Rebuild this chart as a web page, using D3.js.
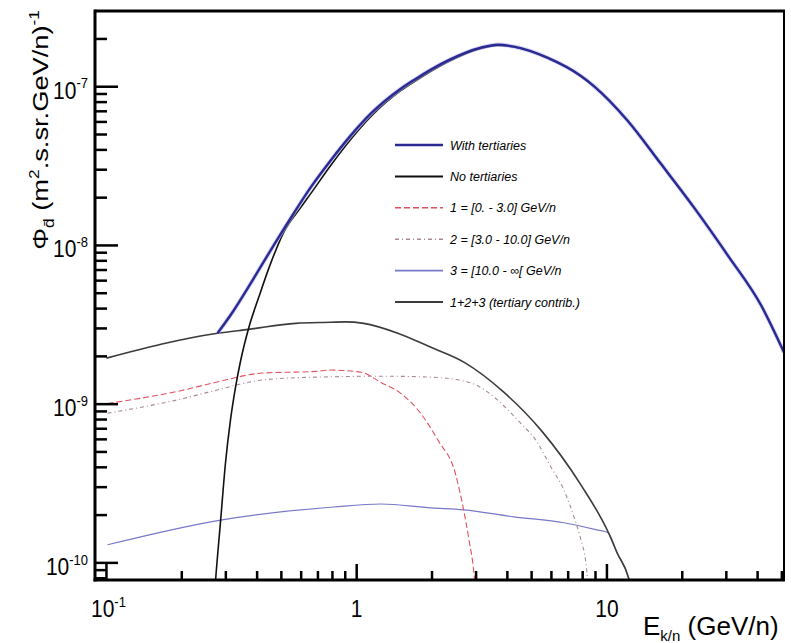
<!DOCTYPE html>
<html>
<head>
<meta charset="utf-8">
<script src="https://cdn.jsdelivr.net/npm/d3@7"></script>
<style>
  html, body { margin: 0; padding: 0; background: #fff; }
  svg { display: block; }
  text { font-family: "Liberation Sans", Arial, Helvetica, sans-serif; fill: #000; }
</style>
</head>
<body>
<svg id="chart" width="791" height="643"></svg>
<script>
// ---------------- data ----------------
const xTickValues = [0.1, 1, 10];
const xTickLabels = [["10", "-1"], ["1", null], ["10", null]];
const yTickValues = [1e-10, 1e-9, 1e-8, 1e-7];
const yTickLabels = [["10", "-10"], ["10", "-9"], ["10", "-8"], ["10", "-7"]];
const xMinorTicks = [0.2, 0.3, 0.4, 0.5, 0.6, 0.7, 0.8, 0.9, 2, 3, 4, 5, 6, 7, 8, 9, 20, 30, 40, 50];
const yMinorTicks = [8e-11, 9e-11,
  2e-10, 3e-10, 4e-10, 5e-10, 6e-10, 7e-10, 8e-10, 9e-10,
  2e-9, 3e-9, 4e-9, 5e-9, 6e-9, 7e-9, 8e-9, 9e-9,
  2e-8, 3e-8, 4e-8, 5e-8, 6e-8, 7e-8, 8e-8, 9e-8,
  2e-7];

const legendLabels = [
  "With tertiaries",
  "No tertiaries",
  "1 = [0. - 3.0] GeV/n",
  "2 = [3.0 - 10.0] GeV/n",
  "3 = [10.0 - \u221E[ GeV/n",
  "1+2+3 (tertiary contrib.)"
];

// With tertiaries
const withTertE = [0.278, 0.313, 0.377, 0.453, 0.544, 0.655, 0.787, 0.946, 1.138, 1.50, 1.69, 2.31, 3.13, 3.66, 4.25, 5.81, 7.87, 8.87, 12.1, 16.4, 22.3, 30.5, 41.3, 51];
const withTertF = [2.80e-9, 3.63e-9, 5.77e-9, 9.31e-9, 1.48e-8, 2.32e-8, 3.43e-8, 4.92e-8, 6.76e-8, 9.71e-8, 1.10e-7, 1.46e-7, 1.76e-7, 1.84e-7, 1.79e-7, 1.52e-7, 1.17e-7, 1.01e-7, 6.11e-8, 3.28e-8, 1.73e-8, 8.60e-9, 4.20e-9, 2.12e-9];

// No tertiaries
const noTertE = [0.262, 0.273, 0.286, 0.299, 0.313, 0.328, 0.344, 0.370, 0.406, 0.453, 0.511, 0.597, 0.655, 0.787, 0.946, 1.138, 1.50, 1.69, 2.31, 3.13, 3.66, 4.25, 5.81, 7.87, 8.87, 12.1, 16.4, 22.3, 30.5, 41.3, 51];
const noTertF = [3.0e-11, 7.8e-11, 1.86e-10, 4.26e-10, 7.93e-10, 1.28e-9, 1.89e-9, 3.01e-9, 4.71e-9, 7.71e-9, 1.21e-8, 1.73e-8, 2.12e-8, 3.19e-8, 4.65e-8, 6.47e-8, 9.44e-8, 1.07e-7, 1.43e-7, 1.74e-7, 1.82e-7, 1.78e-7, 1.51e-7, 1.165e-7, 1.005e-7, 6.10e-8, 3.28e-8, 1.73e-8, 8.60e-9, 4.20e-9, 2.12e-9];

// 1 = [0 - 3.0] GeV/n
const band1E = [0.101, 0.20, 0.272, 0.42, 0.686, 0.787, 1.04, 1.25, 1.50, 1.80, 2.11, 2.49, 2.65, 2.81, 2.94, 3.05];
const band1F = [1.01e-9, 1.22e-9, 1.37e-9, 1.57e-9, 1.61e-9, 1.64e-9, 1.59e-9, 1.37e-9, 1.17e-9, 8.77e-10, 5.94e-10, 3.57e-10, 2.32e-10, 1.40e-10, 8.65e-11, 4.0e-11];

// 2 = [3.0 - 10.0] GeV/n
const band2E = [0.101, 0.20, 0.272, 0.42, 0.686, 1.28, 1.98, 2.86, 3.66, 4.40, 5.29, 5.97, 6.73, 7.38, 7.87, 8.24, 8.37, 8.6];
const band2F = [8.77e-10, 1.08e-9, 1.22e-9, 1.42e-9, 1.48e-9, 1.50e-9, 1.48e-9, 1.36e-9, 1.06e-9, 7.93e-10, 5.69e-10, 4.02e-10, 2.88e-10, 1.95e-10, 1.40e-10, 1.00e-10, 7.8e-11, 4.0e-11];

// 3 = [10.0 - inf[ GeV/n
const band3E = [0.101, 0.286, 0.809, 1.25, 1.98, 2.68, 4.25, 6.73, 9.20, 10.1, 11.0, 12.2, 13.0];
const band3F = [1.30e-10, 1.86e-10, 2.25e-10, 2.35e-10, 2.22e-10, 2.16e-10, 1.95e-10, 1.79e-10, 1.61e-10, 1.55e-10, 1.15e-10, 8.05e-11, 5.0e-11];

// 1+2+3 (tertiary contribution)
const sumE = [0.10, 0.278, 0.37, 0.57, 0.787, 0.90, 1.066, 1.46, 1.98, 2.68, 3.87, 5.45, 7.87, 10.1, 11.0, 12.2, 13.0];
const sumF = [1.95e-9, 2.80e-9, 2.96e-9, 3.23e-9, 3.28e-9, 3.30e-9, 3.23e-9, 2.80e-9, 2.28e-9, 1.84e-9, 1.19e-9, 6.86e-10, 3.10e-10, 1.57e-10, 1.15e-10, 8.05e-11, 5.0e-11];

// ---------------- layout ----------------
const svg = d3.select("#chart");
const L = 95, R = 784, T = 11, B = 580;

const x = d3.scaleLog().domain([0.09, 51]).range([L, R]);
const y = d3.scaleLog().domain([7.8e-11, 3e-7]).range([B, T]);

svg.append("defs").append("clipPath").attr("id", "plotclip")
  .append("rect").attr("x", L).attr("y", T).attr("width", R - L).attr("height", B - T);

const styles = [
  { color: "#2a2a92", width: 2.4, dash: null },
  { color: "#111111", width: 1.6, dash: null },
  { color: "#e0505e", width: 1.1, dash: "6,3" },
  { color: "#a88896", width: 1.1, dash: "4,3,1,3" },
  { color: "#7878c8", width: 1.2, dash: null },
  { color: "#3c3c3c", width: 1.6, dash: null }
];

const series = [
  [withTertE, withTertF],
  [noTertE, noTertF],
  [band1E, band1F],
  [band2E, band2F],
  [band3E, band3F],
  [sumE, sumF]
];

const line = d3.line().x(d => x(d[0])).y(d => y(d[1])).curve(d3.curveMonotoneX);

const curves = svg.append("g").attr("clip-path", "url(#plotclip)");
const order = [4, 3, 2, 5, 1, 0];
order.forEach(i => {
  const pts = series[i][0].map((e, k) => [e, series[i][1][k]]);
  if (i === 0) {
    curves.append("path").attr("d", line(pts)).attr("fill", "none")
      .attr("stroke", "#b8b8f0").attr("stroke-width", 4.2).attr("opacity", 0.6);
  }
  curves.append("path")
    .attr("d", line(pts))
    .attr("fill", "none")
    .attr("stroke", styles[i].color)
    .attr("stroke-width", styles[i].width)
    .attr("stroke-dasharray", styles[i].dash)
    .attr("stroke-linejoin", "round");
});

// ---------------- frame ----------------
svg.append("rect").attr("x", L).attr("y", T - 1.5).attr("width", R - L + 1).attr("height", 3).attr("fill", "#000");
svg.append("rect").attr("x", R - 1).attr("y", T).attr("width", 2).attr("height", B - T).attr("fill", "#000");
svg.append("rect").attr("x", L - 1.5).attr("y", T - 1.5).attr("width", 3).attr("height", B - T + 3).attr("fill", "#000");
svg.append("rect").attr("x", L - 1.5).attr("y", B - 1.5).attr("width", R - L + 2.5).attr("height", 3).attr("fill", "#000");

// ---------------- ticks (positions from the d3 scales, pointing inward) ----------------
const tickG = svg.append("g").attr("class", "ticks");
tickG.selectAll("rect.ymin").data(yMinorTicks).join("rect").attr("class", "ymin")
  .attr("x", L).attr("y", d => y(d) - 1.25).attr("width", 12).attr("height", 2.5).attr("fill", "#000");
tickG.selectAll("rect.ymaj").data(yTickValues).join("rect").attr("class", "ymaj")
  .attr("x", L).attr("y", d => y(d) - 1.25).attr("width", 23).attr("height", 2.5).attr("fill", "#000");
tickG.selectAll("rect.xmin").data(xMinorTicks).join("rect").attr("class", "xmin")
  .attr("x", d => x(d) - 1.25).attr("y", B - 9).attr("width", 2.5).attr("height", 9).attr("fill", "#000");
tickG.selectAll("rect.xmaj").data(xTickValues).join("rect").attr("class", "xmaj")
  .attr("x", d => x(d) - 1.25).attr("y", B - 16).attr("width", 2.5).attr("height", 16).attr("fill", "#000");

// tick labels
function powLabel(g, base, exp, xx, yy, anchor) {
  const t = g.append("text").attr("transform", `translate(${xx},${yy}) scale(1,1.15)`)
    .attr("text-anchor", anchor).style("font-size", "21px");
  t.append("tspan").text(base);
  if (exp) t.append("tspan").attr("dy", -9).style("font-size", "13px").text(exp);
  return t;
}
yTickValues.forEach((v, i) => powLabel(svg, yTickLabels[i][0], yTickLabels[i][1], 88, y(v) + 12, "end"));
xTickValues.forEach((v, i) => powLabel(svg, xTickLabels[i][0], xTickLabels[i][1], x(v) + (xTickLabels[i][1] ? 2 : 0), 617, "middle"));

// axis titles
const xt = svg.append("text").attr("x", 643).attr("y", 635).style("font-size", "26px");
xt.append("tspan").text("E");
xt.append("tspan").attr("dy", 6).style("font-size", "15px").text("k/n");
xt.append("tspan").attr("dy", -6).text(" (GeV/n)");

const yt = svg.append("text").attr("transform", "translate(48,10) rotate(-90) scale(1.24,1)")
  .attr("text-anchor", "end").style("font-size", "22px");
yt.append("tspan").text("\u03A6");
yt.append("tspan").attr("dy", 6).style("font-size", "14px").text("d\u0304");
yt.append("tspan").attr("dy", -6).text("  (m");
yt.append("tspan").attr("dy", -9).style("font-size", "14px").text("2");
yt.append("tspan").attr("dy", 9).text(".s.sr.GeV/n)");
yt.append("tspan").attr("dy", -9).style("font-size", "14px").text("-1");

// ---------------- legend ----------------
const legY0 = 145, legDY = 31.4;
const lg = svg.append("g");
legendLabels.forEach((lab, i) => {
  const yy = legY0 + i * legDY;
  lg.append("line").attr("x1", 395).attr("x2", 443).attr("y1", yy).attr("y2", yy)
    .attr("stroke", styles[i].color).attr("stroke-width", Math.min(styles[i].width + 0.4, 2.6))
    .attr("stroke-dasharray", styles[i].dash);
  lg.append("text").attr("x", 450).attr("y", yy + 4.5)
    .style("font-size", "12.5px").style("font-style", "italic").text(lab);
});
</script>
</body>
</html>
